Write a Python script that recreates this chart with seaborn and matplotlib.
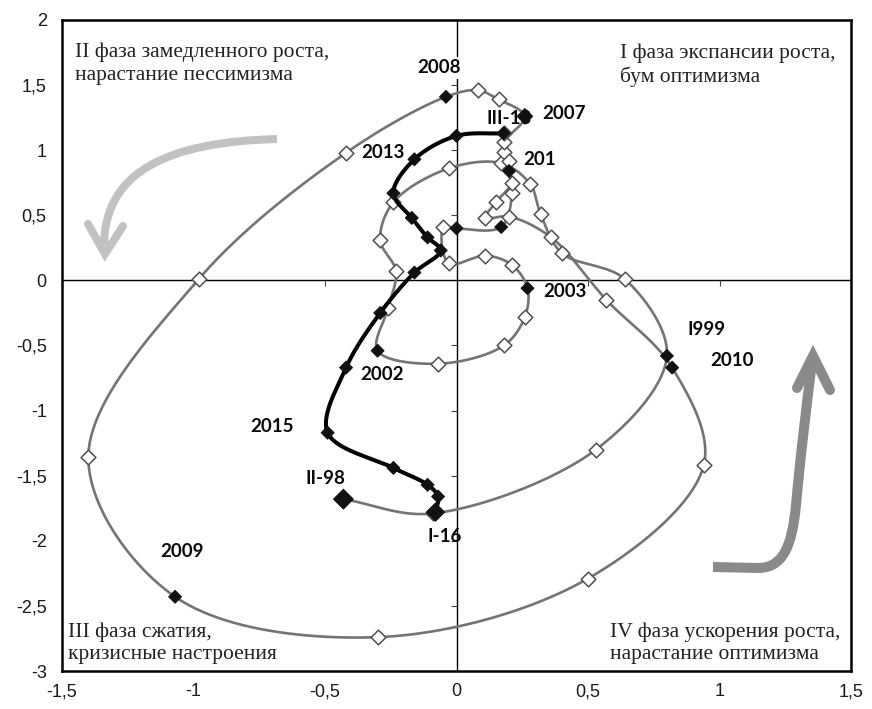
import numpy as np
import pandas as pd
import matplotlib
matplotlib.use("Agg")
import matplotlib.pyplot as plt
import seaborn as sns
from matplotlib.path import Path
from matplotlib.patches import PathPatch
from matplotlib.transforms import Affine2D

# ---------------- data ----------------
# main trajectory II-98 ... III-13 (grey line, quarterly points)
grey_x = [-0.43, -0.09, 0.53, 0.80, 0.64, 0.40, 0.32, 0.28, 0.17, -0.03, -0.24, -0.29, -0.23, -0.26, -0.30,
          -0.07, 0.18, 0.26, 0.27, 0.21, 0.11, -0.03, -0.05, 0.00, 0.17, 0.21, 0.18, 0.18, 0.26,
          0.16, 0.08, -0.04, -0.42, -0.98, -1.40, -1.07, -0.30, 0.50, 0.94, 0.82,
          0.57, 0.36, 0.20, 0.11, 0.15, 0.21, 0.20, 0.20, 0.18]
grey_y = [-1.68, -1.79, -1.30, -0.58, 0.01, 0.21, 0.51, 0.74, 0.90, 0.86, 0.60, 0.31, 0.07, -0.21, -0.54,
          -0.64, -0.50, -0.28, -0.06, 0.12, 0.19, 0.13, 0.41, 0.40, 0.41, 0.67, 0.99, 1.06, 1.26,
          1.39, 1.46, 1.41, 0.98, 0.01, -1.36, -2.43, -2.74, -2.29, -1.42, -0.67,
          -0.15, 0.33, 0.49, 0.48, 0.60, 0.75, 0.84, 0.92, 1.13]
# 1 = highlighted (black) point
grey_black = [1, 0, 0, 1, 0, 0, 0, 0, 0, 0, 0, 0, 0, 0, 1,
              0, 0, 0, 1, 0, 0, 0, 0, 1, 1, 0, 0, 0, 1,
              0, 0, 1, 0, 0, 0, 1, 0, 0, 0, 1,
              0, 0, 0, 0, 0, 0, 1, 0, 0]
grey_labels = ["II-98", "", "", "I999", "", "", "", "", "", "", "", "", "", "", "2002",
               "", "", "", "2003", "", "", "", "", "", "", "", "", "", "2007",
               "", "", "2008", "", "", "", "2009", "", "", "", "2010",
               "", "", "", "", "", "", "201", "", ""]

# recent trajectory III-13 ... I-16 (thick black line)
thick_x = [0.18, 0.00, -0.16, -0.24, -0.17, -0.11, -0.06, -0.16, -0.29, -0.42, -0.49, -0.24, -0.11, -0.07, -0.08]
thick_y = [1.13, 1.11, 0.93, 0.67, 0.48, 0.33, 0.23, 0.06, -0.25, -0.67, -1.17, -1.44, -1.57, -1.66, -1.78]
thick_labels = ["III-13", "", "2013", "", "", "", "", "", "", "", "2015", "", "", "", "I-16"]

x_ticks = [-1.5, -1.0, -0.5, 0.0, 0.5, 1.0, 1.5]
y_ticks = [-3.0, -2.5, -2.0, -1.5, -1.0, -0.5, 0.0, 0.5, 1.0, 1.5, 2.0]

quad_text = {
    "II": ["II фаза замедленного роста,", "нарастание пессимизма"],
    "I": ["I фаза экспансии роста,", "бум оптимизма"],
    "III": ["III фаза сжатия,", "кризисные настроения"],
    "IV": ["IV фаза ускорения роста,", "нарастание оптимизма"],
}

# ---------------- styling ----------------
W, H = 872, 709
label_offsets_px = {  # (dx, dy up) in pixels
    "II-98": (-18, 21), "I999": (40, 26), "2002": (4, -24), "2003": (37, -3),
    "2007": (39, 3), "2008": (-7, 29), "2009": (7, 45), "2010": (60, 7),
    "201": (30, 12), "III-13": (5, 15), "2013": (-31, 7), "2015": (-56, 6), "I-16": (9, -24),
}
big_marker = {"II-98": 100, "I-16": 85, "2007": 62}


def smooth(xs, ys, n=24, sx=263.0, sy=130.0):
    """Centripetal Catmull-Rom curve through the points (Excel-like smoothed line)."""
    P = np.column_stack([np.asarray(xs) * sx, np.asarray(ys) * sy])
    P = np.vstack([2 * P[0] - P[1], P, 2 * P[-1] - P[-2]])
    out = []
    for i in range(1, len(P) - 2):
        p0, p1, p2, p3 = P[i - 1], P[i], P[i + 1], P[i + 2]
        t0 = 0.0
        t1 = t0 + max(np.linalg.norm(p1 - p0), 1e-6) ** 0.5
        t2 = t1 + max(np.linalg.norm(p2 - p1), 1e-6) ** 0.5
        t3 = t2 + max(np.linalg.norm(p3 - p2), 1e-6) ** 0.5
        ts = np.linspace(t1, t2, n, endpoint=(i == len(P) - 3))[:, None]
        A1 = (t1 - ts) / (t1 - t0) * p0 + (ts - t0) / (t1 - t0) * p1
        A2 = (t2 - ts) / (t2 - t1) * p1 + (ts - t1) / (t2 - t1) * p2
        A3 = (t3 - ts) / (t3 - t2) * p2 + (ts - t2) / (t3 - t2) * p3
        B1 = (t2 - ts) / (t2 - t0) * A1 + (ts - t0) / (t2 - t0) * A2
        B2 = (t3 - ts) / (t3 - t1) * A2 + (ts - t1) / (t3 - t1) * A3
        C = (t2 - ts) / (t2 - t1) * B1 + (ts - t1) / (t2 - t1) * B2
        out.append(C)
    C = np.vstack(out)
    return C[:, 0] / sx, C[:, 1] / sy


sns.set_theme(style="white")
plt.rcParams['font.family'] = ['Liberation Sans', 'DejaVu Sans']

fig = plt.figure(figsize=(W / 100, H / 100), dpi=100, facecolor="white")
ax = fig.add_axes([62 / W, 1 - 671 / H, (851 - 62) / W, (671 - 20) / H])
ax.set_facecolor("white")

# zero axes
ax.axhline(0, color="black", lw=1.0, zorder=1)
ax.axvline(0, color="black", lw=1.0, zorder=1)
ax.plot([t for t in x_ticks if t != 0], [0] * 6, linestyle="none", marker=3,
        ms=4, mew=0.8, color="#444444", zorder=1)
ax.plot([0] * 10, [t for t in y_ticks if t != 0], linestyle="none", marker=0,
        ms=4, mew=0.8, color="#444444", zorder=1)

# grey smoothed trajectory
gx, gy = smooth(grey_x, grey_y)
sns.lineplot(x=gx, y=gy, sort=False, estimator=None, color="#747474", linewidth=1.9, ax=ax, zorder=2)

# thick black trajectory
tx, ty = smooth(thick_x, thick_y)
sns.lineplot(x=tx, y=ty, sort=False, estimator=None, color="black", linewidth=2.9, ax=ax, zorder=4)

grey_df = pd.DataFrame({"x": grey_x, "y": grey_y, "black": grey_black, "label": grey_labels})
thick_df = pd.DataFrame({"x": thick_x, "y": thick_y, "label": thick_labels})

white_pts = grey_df[grey_df.black == 0]
sns.scatterplot(data=white_pts, x="x", y="y", marker="D", s=56, color="white",
                edgecolor="#505050", linewidth=1.1, ax=ax, zorder=3)

black_pts = pd.concat([grey_df[grey_df.black == 1][["x", "y", "label"]], thick_df], ignore_index=True)
sizes = [big_marker.get(l, 42) for l in black_pts.label]
ax.scatter(black_pts.x, black_pts.y, marker="D", s=sizes, color="#111111",
           edgecolor="#111111", linewidth=0.8, zorder=5)

# point labels
for df in (grey_df, thick_df):
    for _, r in df.iterrows():
        if r.label:
            dx, dy = label_offsets_px[r.label]
            kw = {}
            if r.label == "2008":
                kw["bbox"] = dict(boxstyle="square,pad=0.15", fc="white", ec="none")
            ax.annotate(r.label, xy=(r.x, r.y), xytext=(dx * 0.72, dy * 0.72),
                        textcoords="offset points", ha="center", va="center",
                        fontfamily=["Lato", "DejaVu Sans"], fontweight="bold",
                        fontsize=13.5, color="#0a0a0a", zorder=4.6, **kw)

# axes, ticks
ax.set_xlim(-1.5, 1.5)
ax.set_ylim(-3, 2)
fmt = lambda v: f"{v:g}".replace(".", ",")
ax.set_xticks(x_ticks)
ax.set_xticklabels([fmt(v) for v in x_ticks])
ax.set_yticks(y_ticks)
ax.set_yticklabels([fmt(v) for v in y_ticks])
ax.tick_params(axis="both", length=0, labelsize=13, colors="#1a1a1a")
ax.tick_params(axis="x", pad=9)
ax.tick_params(axis="y", pad=11)
ax.set_xlabel("")
ax.set_ylabel("")
ax.grid(False)
for s in ax.spines.values():
    s.set_visible(True)
    s.set_color("black")
    s.set_linewidth(1.8)

# quadrant captions (pixel positions -> figure coords)
pxt = Affine2D().scale(1 / W, -1 / H).translate(0, 1) + fig.transFigure
serif = ["Liberation Serif", "DejaVu Serif"]
cap_pos = {"II": (75, 57, 80), "I": (620, 58, 82), "III": (68, 637, 659), "IV": (610, 637, 659)}
for k, (x0, b1, b2) in cap_pos.items():
    l1, l2 = quad_text[k]
    fig.text(x0, b1, l1, transform=pxt, ha="left", va="baseline", fontfamily=serif,
             fontsize=15.5, color="#222222")
    fig.text(x0, b2, l2, transform=pxt, ha="left", va="baseline", fontfamily=serif,
             fontsize=15.5, color="#222222")

# decorative curved arrows
def add_path(verts, codes, color, lw_px, cap="butt"):
    p = PathPatch(Path(verts, codes), transform=pxt, fill=False, edgecolor=color,
                  linewidth=lw_px * 0.72, capstyle=cap, joinstyle="miter", zorder=0.5)
    fig.add_artist(p)

M, L, C4 = Path.MOVETO, Path.LINETO, Path.CURVE4
add_path([(277, 139), (170, 142), (105, 170), (104, 245)], [M, C4, C4, C4], "#c2c2c2", 8)
add_path([(88, 224), (105, 254), (123, 226)], [M, L, L], "#c2c2c2", 8, cap="round")
add_path([(713, 567), (758, 568), (782, 568), (792, 548), (796, 505), (800, 460), (806, 410), (812, 362)],
         [M, L, C4, C4, C4, C4, C4, C4], "#8a8a8a", 10)
add_path([(797, 388), (813, 356), (830, 390)], [M, L, L], "#8a8a8a", 10, cap="round")

fig.savefig("out.png", dpi=100, facecolor="white")
